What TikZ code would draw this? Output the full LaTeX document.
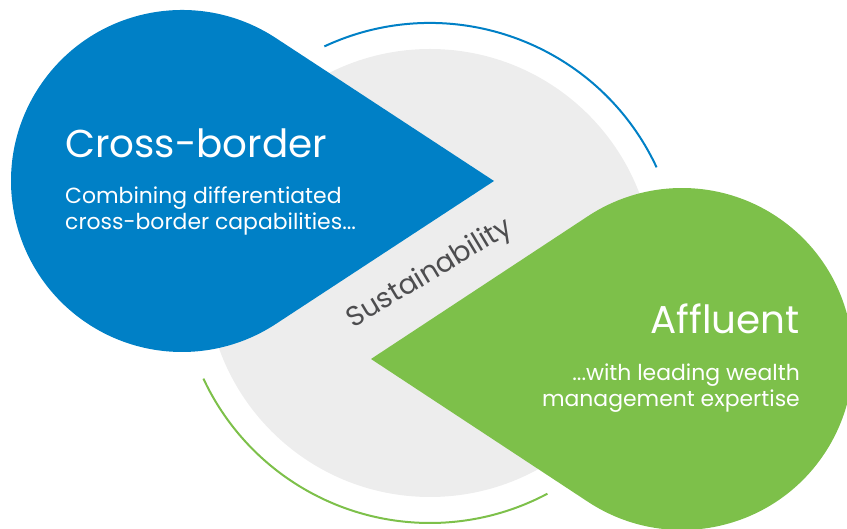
\documentclass[tikz,border=0pt]{standalone}
\usepackage{fontspec}
\setmainfont{Poppins}
\usetikzlibrary{positioning}
\definecolor{xbblue}{HTML}{0080C6}
\definecolor{afgreen}{HTML}{7DC04A}
\definecolor{sustgray}{HTML}{EDEDED}
\definecolor{sustink}{HTML}{4D4D4F}
\begin{document}
\begin{tikzpicture}[x=1bp,y=1bp,
		title/.style={inner sep=0pt, text=white, font=\fontsize{39}{46}\selectfont},
		blurb/.style={inner sep=0pt, text=white, font=\fontsize{22}{26.5}\selectfont}]
	\clip (0,0) rectangle (847,529);
	
	% Centres and tips
	\coordinate (cs) at (430,256);
	\coordinate (cb) at (182,348);
	\coordinate (tb) at (494,348);
	\coordinate (cg) at (682,170);
	\coordinate (tg) at (371,170);
	
	% Sustainability circle and arcs
	\fill[sustgray] (cs) circle[radius=224];
	\draw[xbblue, line width=2bp] ([shift={(25:250)}]cs) arc[start angle=25, end angle=115, radius=250];
	\draw[afgreen, line width=2bp] ([shift={(205:250)}]cs) arc[start angle=205, end angle=298, radius=250];
	
	% Drops
	\fill[xbblue] (tb) -- ([shift={(56.7:171)}]cb) arc[start angle=56.7, end angle=303.3, radius=171] -- cycle;
	\fill[afgreen] (tg) -- ([shift={(236.7:171)}]cg) arc[start angle=236.7, end angle=483.3, radius=171] -- cycle;
	
	% Texts
	\node[title, anchor=base west] (xbtitle) at (65,371) {Cross-border};
	\node[blurb, anchor=base west, align=left] (xbtext) at (65,299) {Combining differentiated\\cross-border capabilities...};
	\node[title, anchor=base east] (aftitle) at (800,195) {Affluent};
	\node[blurb, anchor=base east, align=right] (aftext) at (800,122) {...with leading wealth\\management expertise};
	\node[inner sep=0pt, text=sustink, font=\fontsize{28}{30}\selectfont, rotate=31] (sust) at (430,255) {Sustainability};
\end{tikzpicture}
\end{document}
